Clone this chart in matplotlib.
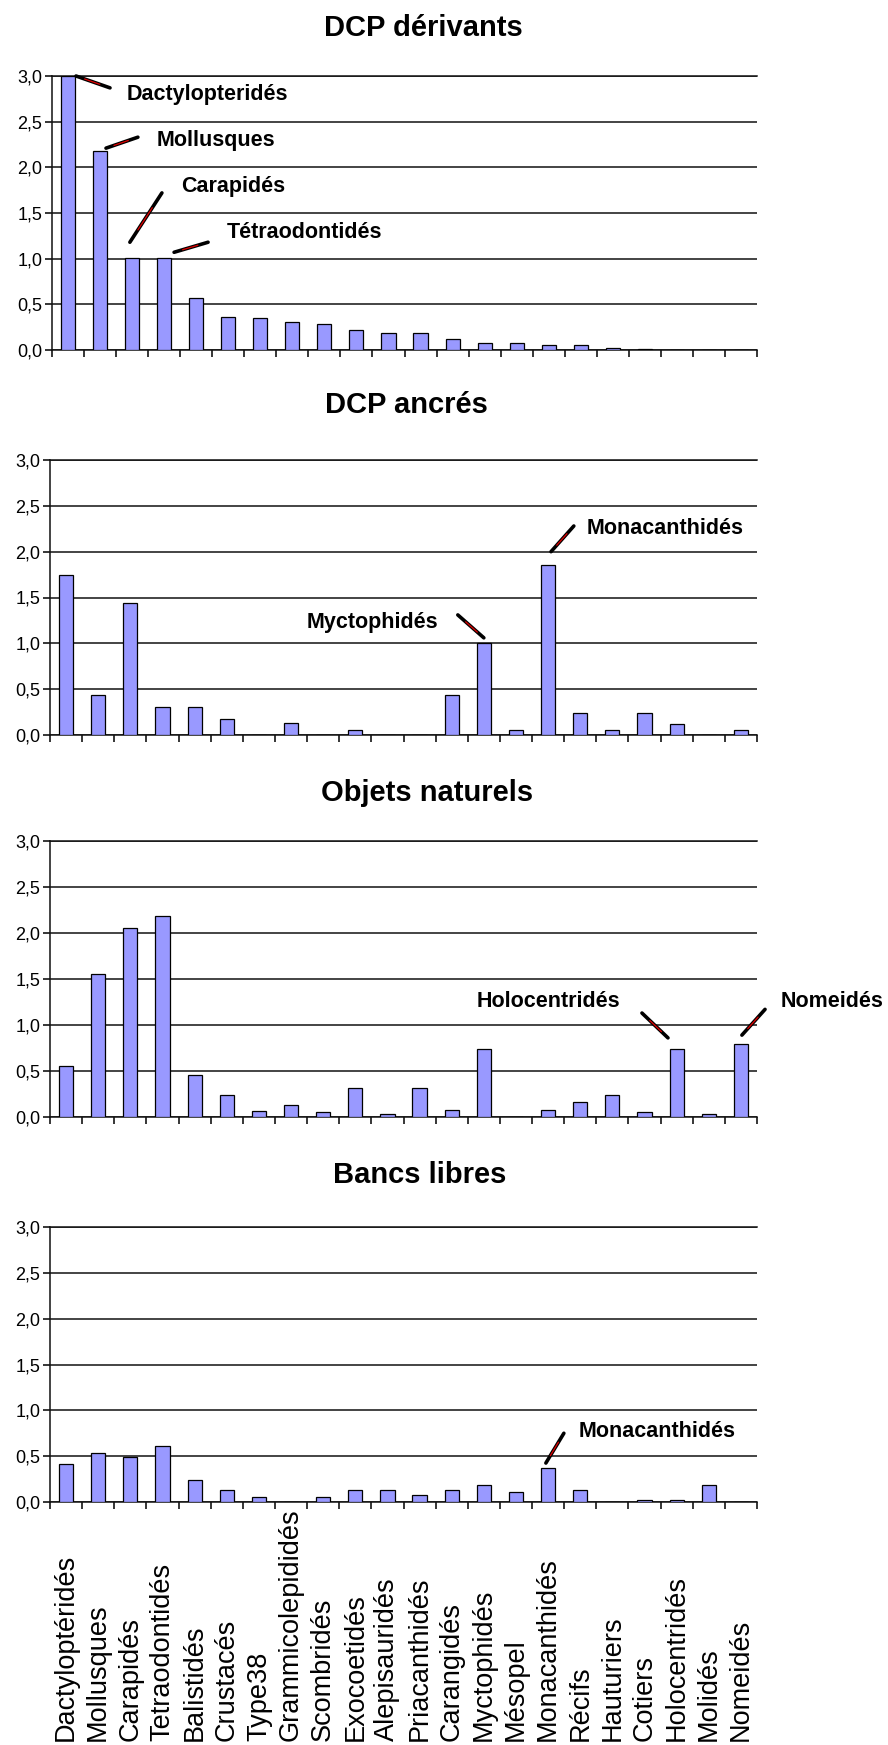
import numpy as np
import matplotlib
matplotlib.use("Agg")
import matplotlib.pyplot as plt
import matplotlib.transforms as mtransforms

plt.rcParams['font.family'] = ['Liberation Sans', 'DejaVu Sans']

# ---------------- data ----------------
categories = ["Dactyloptéridés", "Mollusques", "Carapidés", "Tetraodontidés",
              "Balistidés", "Crustacés", "Type38", "Grammicolepididés",
              "Scombridés", "Exocoetidés", "Alepisauridés", "Priacanthidés",
              "Carangidés", "Myctophidés", "Mésopel", "Monacanthidés",
              "Récifs", "Hauturiers", "Cotiers", "Holocentridés", "Molidés",
              "Nomeidés"]

dcp_derivants = [3.0, 2.18, 1.01, 1.01, 0.57, 0.36, 0.35, 0.31, 0.29, 0.22,
                 0.19, 0.19, 0.12, 0.08, 0.08, 0.06, 0.06, 0.02, 0.01, 0.0,
                 0.0, 0.0]
dcp_ancres = [1.75, 0.44, 1.44, 0.31, 0.31, 0.18, 0.0, 0.13, 0.0, 0.06,
              0.0, 0.0, 0.44, 1.0, 0.06, 1.86, 0.24, 0.06, 0.24, 0.12,
              0.0, 0.06]
objets_naturels = [0.55, 1.55, 2.05, 2.18, 0.46, 0.24, 0.07, 0.13, 0.05, 0.31,
                   0.03, 0.31, 0.08, 0.74, 0.0, 0.08, 0.16, 0.24, 0.05, 0.74,
                   0.03, 0.79]
bancs_libres = [0.42, 0.54, 0.49, 0.61, 0.24, 0.13, 0.05, 0.0, 0.05, 0.13,
                0.13, 0.08, 0.13, 0.19, 0.11, 0.37, 0.13, 0.0, 0.025, 0.02,
                0.19, 0.0]

titles = ["DCP dérivants", "DCP ancrés", "Objets naturels", "Bancs libres"]
series = [dcp_derivants, dcp_ancres, objets_naturels, bancs_libres]
y_ticks = [0.0, 0.5, 1.0, 1.5, 2.0, 2.5, 3.0]

# callouts: (text, line start, line end, text anchor) in data coords
callouts = [
    [("Dactylopteridés", (0.25, 3.0), (1.31, 2.87), (1.84, 2.737)),
     ("Mollusques", (1.185, 2.21), (2.18, 2.33), (2.78, 2.23)),
     ("Carapidés", (1.93, 1.18), (2.93, 1.72), (3.52, 1.73)),
     ("Tétraodontidés", (3.31, 1.07), (4.37, 1.18), (4.96, 1.23))],
    [("Myctophidés", (13.0, 1.06), (12.19, 1.31), (7.50, 1.167)),
     ("Monacanthidés", (15.09, 2.0), (15.80, 2.28), (16.21, 2.19))],
    [("Holocentridés", (18.73, 0.86), (17.92, 1.13), (12.79, 1.196)),
     ("Nomeidés", (21.03, 0.89), (21.75, 1.17), (22.24, 1.196))],
    [("Monacanthidés", (14.93, 0.425), (15.49, 0.75), (15.96, 0.71))],
]

# ---------------- layout (pixels) ----------------
W, H = 888, 1745
panel_px = [(52, 757, 76, 350), (50, 757, 460, 735),
            (50, 757, 841, 1117), (50, 757, 1227, 1502)]
title_px = [(423, 36), (406, 413), (427, 801), (420, 1183)]

fig = plt.figure(figsize=(W / 100, H / 100), dpi=100)
fig.patch.set_facecolor("white")

axes = []
n = len(categories)
x = np.arange(n)
for k, (l, r, t, b) in enumerate(panel_px):
    ax = fig.add_axes([l / W, 1 - b / H, (r - l) / W, (b - t) / H])
    axes.append(ax)
    ax.bar(x, series[k], width=0.44, color="#9999FF", edgecolor="#000000",
           linewidth=0.9, zorder=3)
    ax.set_xlim(-0.5, n - 0.5)
    ax.set_ylim(0, 3.0)
    ax.set_yticks(y_ticks)
    ax.set_yticklabels([f"{v:.1f}".replace(".", ",") for v in y_ticks],
                       fontsize=13)
    ax.set_xticks(np.arange(-0.5, n, 1.0))
    ax.set_xticklabels([])
    ax.tick_params(axis="both", direction="out", length=5, width=1.1,
                   color="black", pad=2)
    ax.yaxis.grid(True, color="#111111", linewidth=1.1)
    ax.set_axisbelow(True)
    ax.spines["right"].set_visible(False)
    for s in ("left", "bottom", "top"):
        ax.spines[s].set_linewidth(1.1)
        ax.spines[s].set_color("#111111")
    ax.set_facecolor("white")

    tx, ty = title_px[k]
    fig.text(tx / W, 1 - ty / H, titles[k], fontsize=21, fontweight="bold",
             ha="center", va="baseline")

    for label, p0, p1, pt in callouts[k]:
        ax.annotate("", xy=p0, xytext=p1, annotation_clip=False,
                    arrowprops=dict(arrowstyle="-", color="black", lw=2.6,
                                    shrinkA=0, shrinkB=0))
        q0 = (p0[0] + 0.25 * (p1[0] - p0[0]), p0[1] + 0.25 * (p1[1] - p0[1]))
        q1 = (p0[0] + 0.7 * (p1[0] - p0[0]), p0[1] + 0.7 * (p1[1] - p0[1]))
        ax.annotate("", xy=q0, xytext=q1, annotation_clip=False,
                    arrowprops=dict(arrowstyle="-", color="#E00000", lw=0.9,
                                    shrinkA=0, shrinkB=0))
        ax.text(pt[0], pt[1], label, fontsize=15.5, fontweight="bold",
                ha="left", va="baseline", clip_on=False)

# category labels, bottom-aligned, rotated
ax4 = axes[-1]
trans = mtransforms.blended_transform_factory(ax4.transData, fig.transFigure)
for i, lab in enumerate(categories):
    ax4.text(i, 1 - 1741 / H, lab, rotation=90, ha="center", va="bottom",
             fontsize=19.5, transform=trans, clip_on=False)

fig.savefig("out.png", dpi=100, facecolor="white")
